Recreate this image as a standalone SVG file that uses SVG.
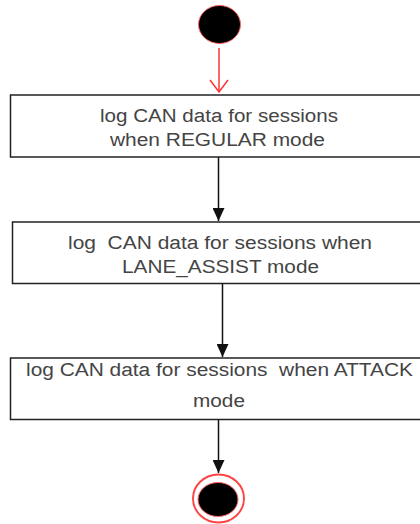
<svg xmlns="http://www.w3.org/2000/svg" width="420" height="524" viewBox="0 0 420 524">
<style>
.box{fill:#fff;stroke:#222;stroke-width:1.5}
.t{font-family:"Liberation Sans",Arial,sans-serif;font-size:18px;fill:#444;text-anchor:middle;white-space:pre}
.ln{stroke:#111;stroke-width:1.5;fill:none}
</style>
<defs>
<marker id="ah" markerWidth="14" markerHeight="12" refX="13" refY="6" orient="auto" markerUnits="userSpaceOnUse">
<path d="M0,0 L13,6 L0,12 Z" fill="#111"/>
</marker>
</defs>
<rect width="420" height="524" fill="#fff"/>
<g id="start">
<ellipse cx="219.5" cy="24.5" rx="21" ry="19" fill="#000" stroke="#f66" stroke-width="1"/>
</g>
<g id="connectors">
<path d="M219,48 V91" stroke="#f33" stroke-width="1.5" fill="none"/>
<path d="M210,80 L219,92 L228,80" stroke="#f33" stroke-width="1.5" fill="none"/>
<path class="ln" d="M218.5,157 V221" marker-end="url(#ah)"/>
<path class="ln" d="M222.5,284 V357" marker-end="url(#ah)"/>
<path class="ln" d="M218.5,420 V473" marker-end="url(#ah)"/>
</g>
<g id="node1">
<rect class="box" x="10.5" y="95" width="420" height="62"/>
<text class="t" x="219" y="122" textLength="238" lengthAdjust="spacingAndGlyphs">log CAN data for sessions</text>
<text class="t" x="217.5" y="146" textLength="215" lengthAdjust="spacingAndGlyphs">when REGULAR mode</text>
</g>
<g id="node2">
<rect class="box" x="12.5" y="222" width="420" height="61.5"/>
<text class="t" x="220" y="249" textLength="304" lengthAdjust="spacingAndGlyphs">log  CAN data for sessions when</text>
<text class="t" x="220.5" y="273" textLength="197" lengthAdjust="spacingAndGlyphs">LANE_ASSIST mode</text>
</g>
<g id="node3">
<rect class="box" x="10.5" y="358" width="420" height="61.5"/>
<text class="t" x="219.5" y="376" textLength="387" lengthAdjust="spacingAndGlyphs">log CAN data for sessions  when ATTACK</text>
<text class="t" x="219" y="407" textLength="52" lengthAdjust="spacingAndGlyphs">mode</text>
</g>
<g id="end">
<ellipse cx="218.5" cy="498.5" rx="25.5" ry="24" fill="#fff" stroke="#f44" stroke-width="2"/>
<ellipse cx="218" cy="499.5" rx="20" ry="17" fill="#000" stroke="#f66" stroke-width="1"/>
</g>
</svg>
